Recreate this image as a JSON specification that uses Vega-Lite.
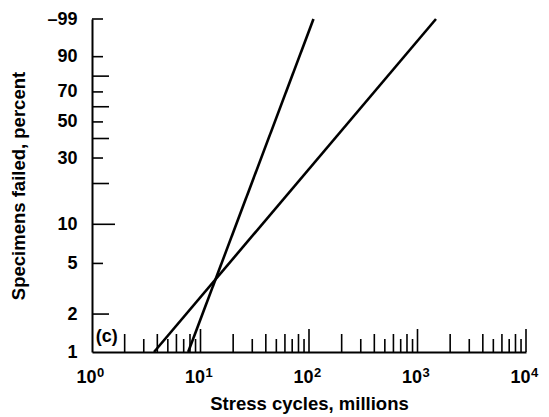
{
  "$schema": "https://vega.github.io/schema/vega-lite/v6.json",
  "width": 434,
  "height": 333,
  "autosize": "none",
  "padding": {"left": 92, "top": 19, "right": 23, "bottom": 65},
  "config": {
    "view": {"stroke": null},
    "font": "Liberation Sans",
    "tick": {"color": "black", "thickness": 1.6, "opacity": 1},
    "axis": {
      "domainColor": "black",
      "domainWidth": 2,
      "ticks": false,
      "grid": false,
      "labelFont": "Liberation Sans",
      "labelFontWeight": "bold",
      "labelFontSize": 18,
      "labelColor": "black",
      "titleFont": "Liberation Sans",
      "titleFontWeight": "bold",
      "titleFontSize": 18.5,
      "titleColor": "black",
      "labelOverlap": false,
      "labelBound": false,
      "labelFlush": false
    }
  },
  "datasets": {
    "lines": [
      {"series": "A", "cycles_millions": 7.7, "failed_pct": 1, "weibull": -4.6001},
      {"series": "A", "cycles_millions": 110, "failed_pct": 99, "weibull": 1.5272},
      {"series": "B", "cycles_millions": 3.73, "failed_pct": 1, "weibull": -4.6001},
      {"series": "B", "cycles_millions": 1480, "failed_pct": 99, "weibull": 1.5272}
    ],
    "note": [
      {"cycles_millions": 1.37, "weibull": -4.32, "label": "(c)"}
    ],
    "exponents": [
      {"cycles_millions": 1, "exponent": "0"},
      {"cycles_millions": 10, "exponent": "1"},
      {"cycles_millions": 100, "exponent": "2"},
      {"cycles_millions": 1000, "exponent": "3"},
      {"cycles_millions": 10000, "exponent": "4"}
    ],
    "yticks": [
      {"failed_pct": 2, "weibull": -3.9019},
      {"failed_pct": 5, "weibull": -2.9702},
      {"failed_pct": 10, "weibull": -2.2504},
      {"failed_pct": 20, "weibull": -1.4999},
      {"failed_pct": 30, "weibull": -1.0309},
      {"failed_pct": 40, "weibull": -0.6717},
      {"failed_pct": 50, "weibull": -0.3665},
      {"failed_pct": 60, "weibull": -0.0874},
      {"failed_pct": 70, "weibull": 0.1856},
      {"failed_pct": 80, "weibull": 0.4759},
      {"failed_pct": 90, "weibull": 0.834},
      {"failed_pct": 99, "weibull": 1.5272}
    ],
    "xticks": [
      {"cycles_millions": 2, "multiplier": 2}, {"cycles_millions": 3, "multiplier": 3}, {"cycles_millions": 4, "multiplier": 4}, {"cycles_millions": 5, "multiplier": 5}, {"cycles_millions": 6, "multiplier": 6}, {"cycles_millions": 7, "multiplier": 7}, {"cycles_millions": 8, "multiplier": 8}, {"cycles_millions": 9, "multiplier": 9}, {"cycles_millions": 10, "multiplier": 1},
      {"cycles_millions": 20, "multiplier": 2}, {"cycles_millions": 30, "multiplier": 3}, {"cycles_millions": 40, "multiplier": 4}, {"cycles_millions": 50, "multiplier": 5}, {"cycles_millions": 60, "multiplier": 6}, {"cycles_millions": 70, "multiplier": 7}, {"cycles_millions": 80, "multiplier": 8}, {"cycles_millions": 90, "multiplier": 9}, {"cycles_millions": 100, "multiplier": 1},
      {"cycles_millions": 200, "multiplier": 2}, {"cycles_millions": 300, "multiplier": 3}, {"cycles_millions": 400, "multiplier": 4}, {"cycles_millions": 500, "multiplier": 5}, {"cycles_millions": 600, "multiplier": 6}, {"cycles_millions": 700, "multiplier": 7}, {"cycles_millions": 800, "multiplier": 8}, {"cycles_millions": 900, "multiplier": 9}, {"cycles_millions": 1000, "multiplier": 1},
      {"cycles_millions": 2000, "multiplier": 2}, {"cycles_millions": 3000, "multiplier": 3}, {"cycles_millions": 4000, "multiplier": 4}, {"cycles_millions": 5000, "multiplier": 5}, {"cycles_millions": 6000, "multiplier": 6}, {"cycles_millions": 7000, "multiplier": 7}, {"cycles_millions": 8000, "multiplier": 8}, {"cycles_millions": 9000, "multiplier": 9}, {"cycles_millions": 10000, "multiplier": 1}
    ]
  },
  "layer": [
    {
      "data": {"name": "lines"},
      "mark": {"type": "line", "color": "black", "strokeWidth": 2.6, "clip": false},
      "encoding": {
        "x": {
          "field": "cycles_millions",
          "type": "quantitative",
          "scale": {"type": "log", "domain": [1, 10000], "nice": false},
          "axis": {
            "title": "Stress cycles, millions",
            "values": [1, 10, 100, 1000, 10000],
            "labelExpr": "'10'",
            "labelPadding": 16,
            "labelOffset": -6,
            "titlePadding": 8
          }
        },
        "y": {
          "field": "weibull",
          "type": "quantitative",
          "scale": {"domain": [-4.6001, 1.5272], "nice": false, "zero": false},
          "axis": {
            "title": "Specimens failed, percent",
            "values": [-4.6001, -3.9019, -2.9702, -2.2504, -1.0309, -0.3665, 0.1856, 0.834, 1.5272],
            "labelExpr": "round(100*(1-exp(-exp(datum.value)))) == 99 ? '–99' : '' + round(100*(1-exp(-exp(datum.value))))",
            "labelPadding": 15,
            "titlePadding": 18
          }
        },
        "detail": {"field": "series", "type": "nominal"}
      }
    },
    {
      "data": {"name": "yticks"},
      "transform": [{"filter": {"field": "failed_pct", "oneOf": [5, 30, 50, 70, 90, 99]}}],
      "mark": {"type": "tick", "orient": "horizontal", "size": 11, "xOffset": 5.5},
      "encoding": {
        "x": {"datum": 1, "type": "quantitative"},
        "y": {"field": "weibull", "type": "quantitative"}
      }
    },
    {
      "data": {"name": "yticks"},
      "transform": [{"filter": {"field": "failed_pct", "oneOf": [2, 20, 40, 60, 80]}}],
      "mark": {"type": "tick", "orient": "horizontal", "size": 17, "xOffset": 8.5},
      "encoding": {
        "x": {"datum": 1, "type": "quantitative"},
        "y": {"field": "weibull", "type": "quantitative"}
      }
    },
    {
      "data": {"name": "yticks"},
      "transform": [{"filter": {"field": "failed_pct", "oneOf": [10]}}],
      "mark": {"type": "tick", "orient": "horizontal", "size": 23, "xOffset": 11.5},
      "encoding": {
        "x": {"datum": 1, "type": "quantitative"},
        "y": {"field": "weibull", "type": "quantitative"}
      }
    },
    {
      "data": {"name": "xticks"},
      "transform": [{"filter": {"field": "multiplier", "oneOf": [3, 5, 7, 9]}}],
      "mark": {"type": "tick", "orient": "vertical", "size": 13, "yOffset": -6.5},
      "encoding": {
        "x": {"field": "cycles_millions", "type": "quantitative"},
        "y": {"datum": -4.6001, "type": "quantitative"}
      }
    },
    {
      "data": {"name": "xticks"},
      "transform": [{"filter": {"field": "multiplier", "oneOf": [2, 4, 6, 8]}}],
      "mark": {"type": "tick", "orient": "vertical", "size": 18, "yOffset": -9},
      "encoding": {
        "x": {"field": "cycles_millions", "type": "quantitative"},
        "y": {"datum": -4.6001, "type": "quantitative"}
      }
    },
    {
      "data": {"name": "xticks"},
      "transform": [{"filter": {"field": "multiplier", "oneOf": [1]}}],
      "mark": {"type": "tick", "orient": "vertical", "size": 23, "yOffset": -11.5},
      "encoding": {
        "x": {"field": "cycles_millions", "type": "quantitative"},
        "y": {"datum": -4.6001, "type": "quantitative"}
      }
    },
    {
      "data": {"name": "note"},
      "mark": {"type": "text", "fontSize": 18, "fontWeight": "bold", "color": "black", "align": "center", "baseline": "middle"},
      "encoding": {
        "x": {"field": "cycles_millions", "type": "quantitative"},
        "y": {"field": "weibull", "type": "quantitative"},
        "text": {"field": "label"}
      }
    },
    {
      "data": {"name": "exponents"},
      "mark": {"type": "text", "fontSize": 13, "fontWeight": "bold", "color": "black", "align": "left", "baseline": "top", "dx": 5, "dy": 15, "clip": false},
      "encoding": {
        "x": {"field": "cycles_millions", "type": "quantitative"},
        "y": {"datum": -4.6001, "type": "quantitative"},
        "text": {"field": "exponent"}
      }
    }
  ]
}
